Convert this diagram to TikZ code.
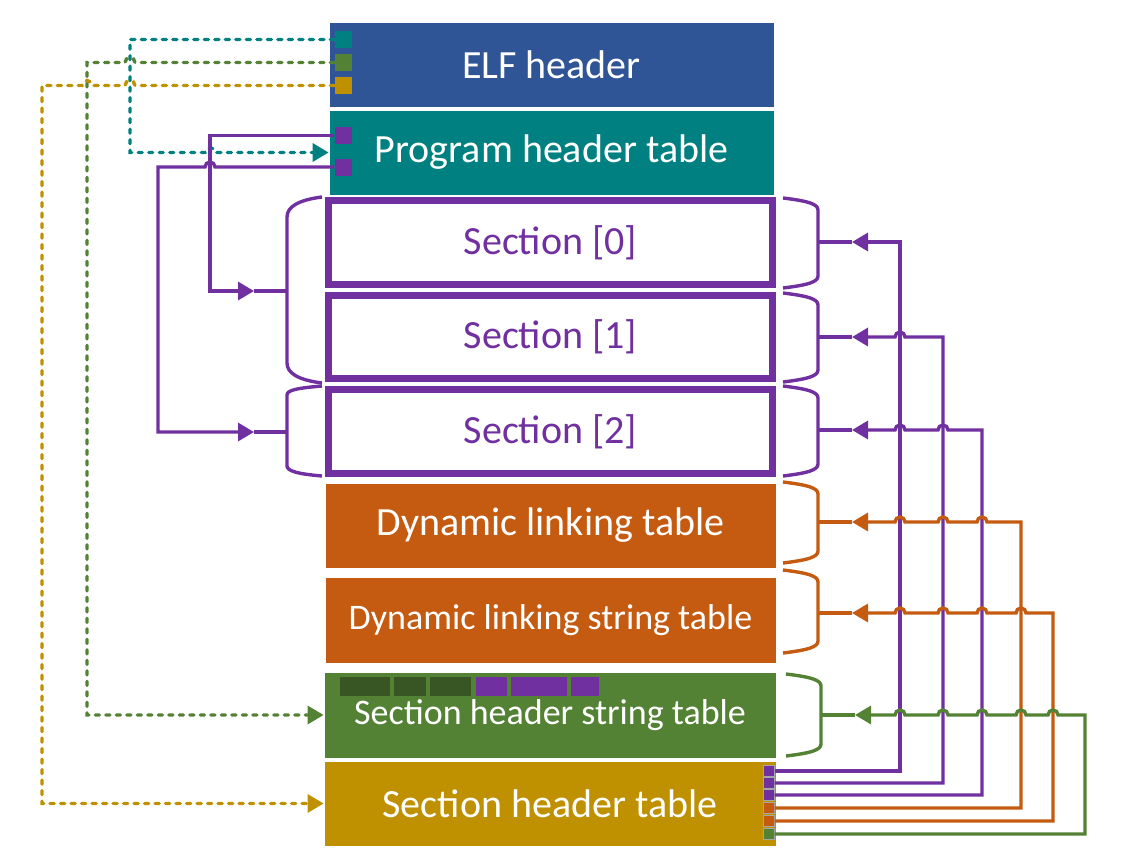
\documentclass[tikz,border=0pt]{standalone}
\usepackage{fontspec}
\setmainfont{Carlito}
\usetikzlibrary{arrows.meta}
\definecolor{elfblue}{HTML}{2F5597}
\definecolor{phteal}{HTML}{008080}
\definecolor{secpurple}{HTML}{7030A0}
\definecolor{dynorange}{HTML}{C55A11}
\definecolor{shgreen}{HTML}{548235}
\definecolor{shgold}{HTML}{BF9000}
\definecolor{darkgreen}{HTML}{375623}
\tikzset{
  box/.style={rectangle, inner sep=0pt, text=white, draw=white, line width=0.8pt,
    font=\fontsize{40}{48}\selectfont, minimum width=451pt},
  secbox/.style={rectangle, inner sep=0pt, fill=white, draw=secpurple, line width=7pt,
    text=secpurple, font=\fontsize{40}{48}\selectfont, minimum width=444pt},
  sq/.style={rectangle, inner sep=0pt, minimum width=17pt, minimum height=17pt},
  ssq/.style={rectangle, inner sep=0pt, minimum width=11pt, minimum height=11pt, draw=black!35, line width=0.4pt},
  conn/.style={line width=3.4pt},
  dconn/.style={line width=3.4pt, line cap=round, dash pattern=on 4pt off 6.5pt},
  tip/.style={-{Triangle[length=16pt,width=18pt]}},
  brace/.style={line width=3.4pt},
}
\begin{document}
\begin{tikzpicture}[x=1pt,y=-1pt]
\useasboundingbox (0,0) rectangle (1121,867);
% boxes
\node[box, fill=elfblue, minimum width=445pt, minimum height=85pt] (elf) at (551.5,64.5) {\raisebox{-2pt}{ELF header}};
\node[box, fill=phteal, minimum width=445pt, minimum height=85pt] (ph) at (551.5,152.5) {\raisebox{-3pt}{Program header table}};
\node[secbox, minimum height=84pt] (s0) at (550.5,242.5) {\raisebox{-1pt}{Section [0]}};
\node[secbox, minimum height=83pt] (s1) at (550.5,337) {\raisebox{-1pt}{Section [1]}};
\node[secbox, minimum height=84pt] (s2) at (550.5,431.5) {\raisebox{-1pt}{Section [2]}};
\node[box, fill=dynorange, minimum height=85pt] (dyn) at (550.5,525.5) {\raisebox{-2pt}{Dynamic linking table}};
\node[box, fill=dynorange, minimum height=86pt, font=\fontsize{36}{43}\selectfont] (dynstr) at (550.5,620) {\raisebox{-2pt}{Dynamic linking string table}};
\node[box, fill=shgreen, minimum width=452pt, minimum height=86pt, font=\fontsize{36}{43}\selectfont] (shst) at (550,715) {\raisebox{-1pt}{Section header string table}};
\node[box, fill=shgold, minimum width=452pt, minimum height=85pt] (sht) at (550,803.5) {\raisebox{-2pt}{Section header table}};
% string table blocks
\fill[darkgreen] (340,677) rectangle (390,696);
\fill[darkgreen] (394,677) rectangle (426,696);
\fill[darkgreen] (430,677) rectangle (471,696);
\fill[secpurple] (476,677) rectangle (507,696);
\fill[secpurple] (511,677) rectangle (567,696);
\fill[secpurple] (571,677) rectangle (599,696);
% small squares
\node[sq, fill=phteal] (e1) at (343,39.5) {};
\node[sq, fill=shgreen] (e2) at (343,62.5) {};
\node[sq, fill=shgold] (e3) at (343,85.5) {};
\node[sq, fill=secpurple] (p1) at (343,135.5) {};
\node[sq, fill=secpurple] (p2) at (343,167) {};
\node[ssq, fill=secpurple] (t1) at (769,771) {};
\node[ssq, fill=secpurple] (t2) at (769,783) {};
\node[ssq, fill=secpurple] (t3) at (769,795) {};
\node[ssq, fill=dynorange] (t4) at (769,808) {};
\node[ssq, fill=dynorange] (t5) at (769,821) {};
\node[ssq, fill=shgreen] (t6) at (769,834) {};
% brace tips and arrow points
\coordinate (lb0) at (287,291);
\coordinate (lb1) at (287,432);
\coordinate (la0) at (254,291);
\coordinate (la1) at (254,432);
\coordinate (rb0) at (818,242);
\coordinate (rb1) at (818,337);
\coordinate (rb2) at (818,430);
\coordinate (rb3) at (818,522);
\coordinate (rb4) at (818,613);
\coordinate (rb5) at (821,715);
\coordinate (ra0) at (852,242);
\coordinate (ra1) at (852,337);
\coordinate (ra2) at (852,430);
\coordinate (ra3) at (852,522);
\coordinate (ra4) at (852,613);
\coordinate (ra5) at (855,715);
% left braces
\draw[brace, secpurple] (322,197) .. controls (298,200) and (287,207) .. (287,217) -- (287,363) .. controls (287,373) and (298,380) .. (322,383);
\draw[brace, secpurple] (322,386) .. controls (298,388) and (287,390) .. (287,395) -- (287,466) .. controls (287,471) and (298,474) .. (322,476);
% right braces
\draw[brace, secpurple] (783,198) .. controls (808,201) and (818,204) .. (818,210) -- (818,276) .. controls (818,282) and (808,285) .. (783,288);
\draw[brace, secpurple] (783,293) .. controls (808,296) and (818,299) .. (818,305) -- (818,370) .. controls (818,376) and (808,379) .. (783,382);
\draw[brace, secpurple] (783,386) .. controls (808,389) and (818,392) .. (818,398) -- (818,464) .. controls (818,470) and (808,473) .. (783,476);
\draw[brace, dynorange] (783,482) .. controls (808,485) and (818,488) .. (818,494) -- (818,551) .. controls (818,557) and (808,560) .. (783,563);
\draw[brace, dynorange] (783,570) .. controls (808,573) and (818,576) .. (818,582) -- (818,641) .. controls (818,647) and (808,650) .. (783,653);
\draw[brace, shgreen] (786,674) .. controls (811,677) and (821,680) .. (821,686) -- (821,744) .. controls (821,750) and (811,753) .. (786,756);
% dashed connectors from ELF header
\draw[dconn, phteal, tip] (e1.west) -- (130,39.5) -- (130,152.5) -- (205,152.5) arc(180:0:5pt) -- (ph.west);
\draw[dconn, shgreen, tip] (e2.west) -- (135,62.5) arc(0:180:5pt) -- (87,62.5) -- (87,715) -- (shst.west);
\draw[dconn, shgold, tip] (e3.west) -- (135,85.5) arc(0:180:5pt) -- (92,85.5) arc(0:180:5pt) -- (42,85.5) -- (42,803.5) -- (sht.west);
% program header connectors
\draw[conn, secpurple, tip] (p1.west) -- (210,135.5) -- (210,291) -- (la0);
\draw[conn, secpurple] (la0) -- (lb0);
\draw[conn, secpurple, tip] (p2.west) -- (215,167) arc(0:180:5pt) -- (158,167) -- (158,432) -- (la1);
\draw[conn, secpurple] (la1) -- (lb1);
% section header table connectors
\draw[conn, secpurple, tip] (t1.east) -- (900,771) -- (900,242) -- (ra0);
\draw[conn, secpurple] (ra0) -- (rb0);
\draw[conn, secpurple, tip] (t2.east) -- (943,783) -- (943,337) -- (905,337) arc(0:180:5pt) -- (ra1);
\draw[conn, secpurple] (ra1) -- (rb1);
\draw[conn, secpurple, tip] (t3.east) -- (982,795) -- (982,430) -- (948,430) arc(0:180:5pt) -- (905,430) arc(0:180:5pt) -- (ra2);
\draw[conn, secpurple] (ra2) -- (rb2);
\draw[conn, dynorange, tip] (t4.east) -- (1021,808) -- (1021,522) -- (987,522) arc(0:180:5pt) -- (948,522) arc(0:180:5pt) -- (905,522) arc(0:180:5pt) -- (ra3);
\draw[conn, dynorange] (ra3) -- (rb3);
\draw[conn, dynorange, tip] (t5.east) -- (1053,821) -- (1053,613) -- (1026,613) arc(0:180:5pt) -- (987,613) arc(0:180:5pt) -- (948,613) arc(0:180:5pt) -- (905,613) arc(0:180:5pt) -- (ra4);
\draw[conn, dynorange] (ra4) -- (rb4);
\draw[conn, shgreen, tip] (t6.east) -- (1085,834) -- (1085,715) -- (1058,715) arc(0:180:5pt) -- (1026,715) arc(0:180:5pt) -- (987,715) arc(0:180:5pt) -- (948,715) arc(0:180:5pt) -- (905,715) arc(0:180:5pt) -- (ra5);
\draw[conn, shgreen] (ra5) -- (rb5);
\end{tikzpicture}
\end{document}
